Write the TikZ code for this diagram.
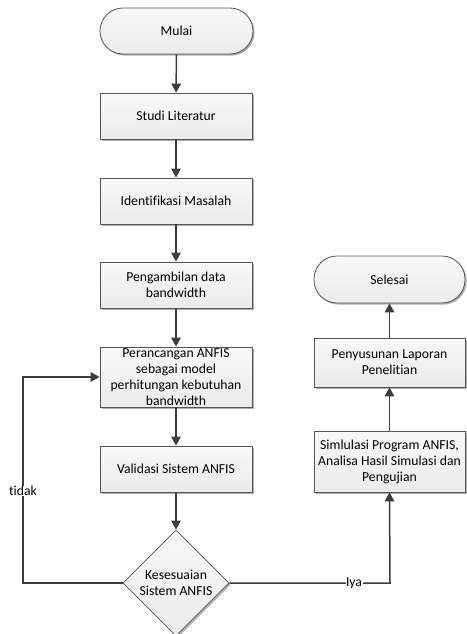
\documentclass[tikz,border=0pt]{standalone}
\usepackage{fontspec}
\setmainfont{Carlito}[Ligatures=NoCommon]
\usetikzlibrary{shapes.geometric,arrows.meta,shadows}
\definecolor{edge}{HTML}{555555}
\definecolor{flow}{HTML}{3C3C3C}
\definecolor{boxtop}{HTML}{F8F8F8}
\definecolor{boxbot}{HTML}{EBEBEB}
\begin{document}
\begin{tikzpicture}[x=1pt,y=-1pt,
  every node/.style={font=\fontsize{13.7pt}{16pt}\selectfont, text=black},
  card/.style={draw=edge, line width=0.8pt, top color=boxtop, bottom color=boxbot,
    drop shadow={shadow xshift=1.6pt, shadow yshift=-1.6pt, fill=black!40, opacity=0.8},
    align=center, inner xsep=2pt, inner ysep=0pt},
  stepbox/.style={card, rectangle, minimum width=152pt, minimum height=46pt},
  terminal/.style={card, rectangle, rounded corners=23pt, minimum width=153pt, minimum height=46pt},
  decision/.style={card, diamond, shape aspect=1, minimum width=106pt, minimum height=106pt, inner sep=0pt},
  flowline/.style={draw=flow, line width=1.5pt, -{Triangle[length=9pt,width=9.5pt]}},
  tag/.style={fill=white, inner sep=0.5pt}
]
\useasboundingbox (0,0) rectangle (466,634);

% main column
\node[terminal] (mulai) at (176.5,31) {Mulai};
\node[stepbox] (studi) at (176,116) {Studi Literatur};
\node[stepbox] (ident) at (176,201) {Identifikasi Masalah};
\node[stepbox] (ambil) at (176,285) {Pengambilan data\\bandwidth};
\node[stepbox, minimum height=60pt] (rancang) at (176,377) {Perancangan ANFIS\\sebagai model\\perhitungan kebutuhan\\bandwidth};
\node[stepbox] (valid) at (176,469) {Validasi Sistem ANFIS};
\node[decision] (cocok) at (176,583) {Kesesuaian\\Sistem ANFIS};

% right column
\node[stepbox, minimum width=151pt, minimum height=61pt] (simul) at (389.5,461.5) {Simlulasi Program ANFIS,\\Analisa Hasil Simulasi dan\\Pengujian};
\node[stepbox, minimum width=151pt, minimum height=49pt] (lapor) at (389.5,362.5) {Penyusunan Laporan\\Penelitian};
\node[terminal, minimum width=151pt, minimum height=47pt] (selesai) at (389.5,279.5) {Selesai};

% connectors
\draw[flowline] (mulai) -- (studi);
\draw[flowline] (studi) -- (ident);
\draw[flowline] (ident) -- (ambil);
\draw[flowline] (ambil) -- (rancang);
\draw[flowline] (rancang) -- (valid);
\draw[flowline] (valid) -- (cocok);

\coordinate (tl) at (23,583);
\coordinate (tu) at (23,377);
\draw[flowline] (cocok.west) -- (tl) -- (tu) -- (rancang.west);
\node[tag] (tidak) at (23,491) {tidak};

\coordinate (yr) at (390,583);
\draw[flowline] (cocok.east) -- (yr) -- (simul.south);
\node[tag] (iya) at (354,583) {Iya};

\draw[flowline] (simul) -- (lapor);
\draw[flowline] (lapor) -- (selesai);
\end{tikzpicture}
\end{document}
